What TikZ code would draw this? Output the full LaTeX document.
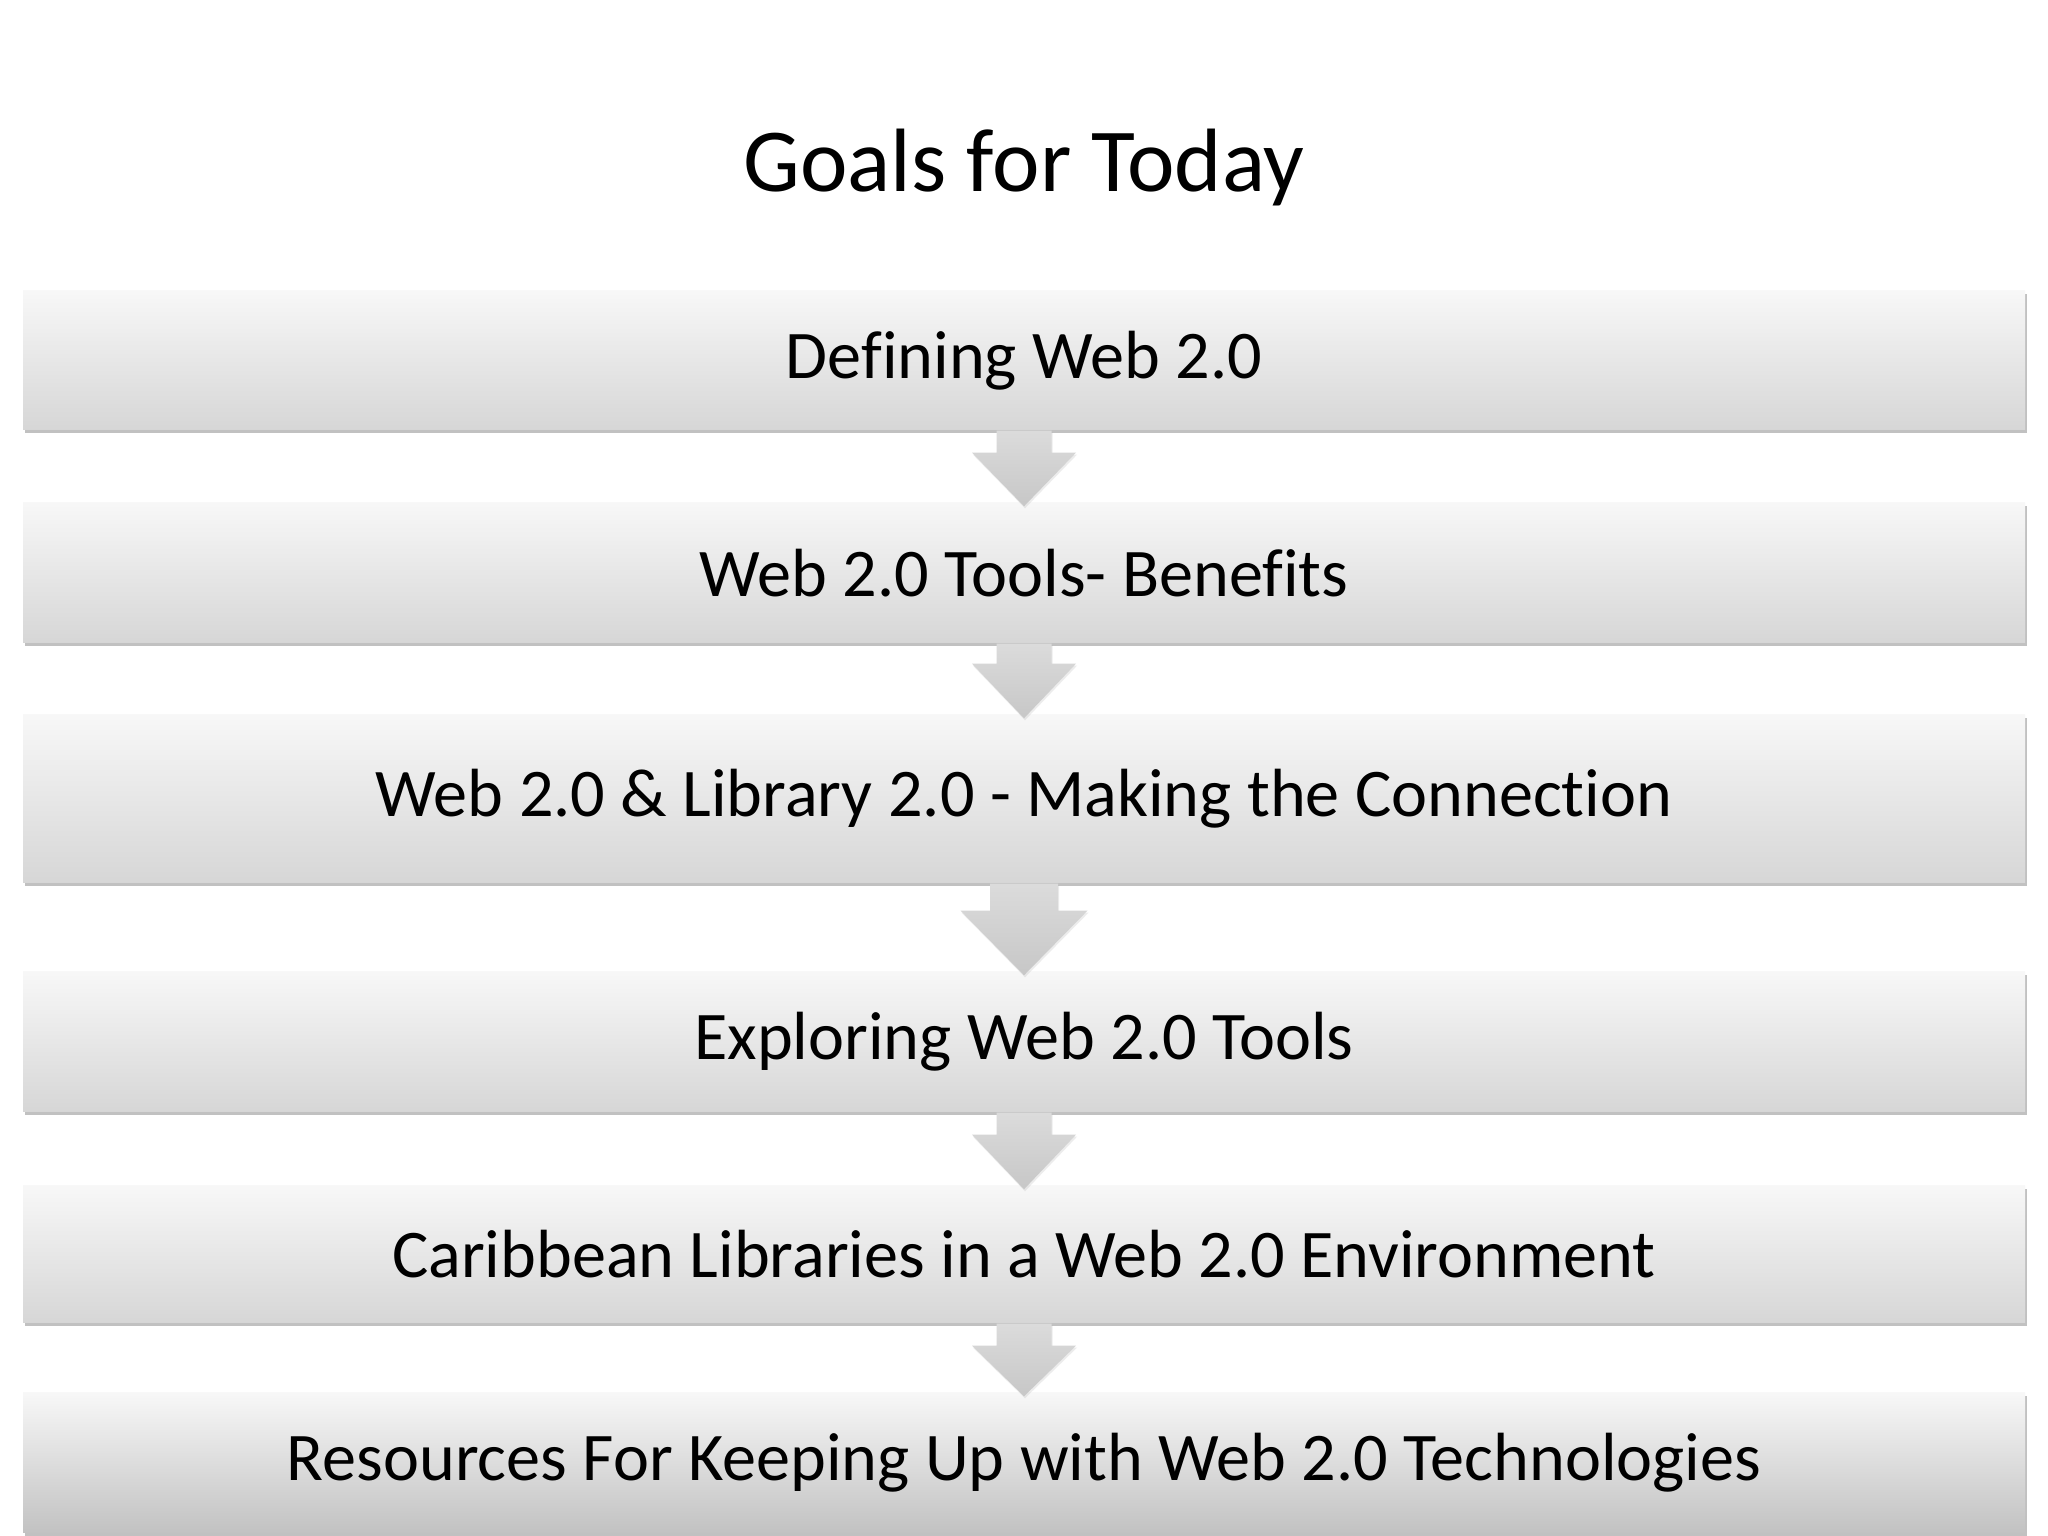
\documentclass[tikz,border=0pt]{standalone}
\usepackage{fontspec}
\setmainfont[Ligatures=NoCommon]{Carlito}
\usetikzlibrary{calc,shadows}
\tikzset{
  goalbox/.style={rectangle, minimum width=20.02cm, inner sep=0pt,
    top color=black!3, middle color=black!5, bottom color=black!16,
    drop shadow={shadow xshift=0.02cm, shadow yshift=-0.03cm, opacity=0.4, fill=black!60},
    font=\fontsize{19.4}{23}\selectfont, text=black},
  blockarr/.style={top color=black!14, bottom color=black!22,
    drop shadow={shadow xshift=0.01cm, shadow yshift=-0.02cm, opacity=0.15}},
}
\newcommand\blockarrow[5]{%
  % #1 from node, #2 to node, #3 shaft half width, #4 head half width, #5 head-top offset
  \path[blockarr]
    ($(#1.south)+(-#3,0)$) -- ($(#1.south)+(-#3,-#5)$) -- ($(#1.south)+(-#4,-#5)$)
    -- ($(#2.north)+(0,-0.04)$)
    -- ($(#1.south)+(#4,-#5)$) -- ($(#1.south)+(#3,-#5)$) -- ($(#1.south)+(#3,0)$) -- cycle;
}
\begin{document}
\begin{tikzpicture}
\useasboundingbox[fill=white] (0,0) rectangle (20.48,15.36);
\node[font=\fontsize{25.6}{30}\selectfont] (title) at (10.24,13.68) {Goals for Today};

\node[goalbox, minimum height=1.39cm] (b1) at (10.24,11.755) {Defining Web 2.0};
\node[goalbox, minimum height=1.40cm] (b2) at (10.24,9.63) {Web 2.0 Tools- Benefits};
\node[goalbox, minimum height=1.68cm] (b3) at (10.24,7.37) {Web 2.0 \& Library 2.0 - Making the Connection};
\node[goalbox, minimum height=1.40cm] (b4) at (10.24,4.94) {Exploring Web 2.0 Tools};
\node[goalbox, minimum height=1.37cm] (b5) at (10.24,2.815) {Caribbean Libraries in a Web 2.0 Environment};
\node[goalbox, minimum height=1.40cm, bottom color=black!24] (b6) at (10.24,0.73) {Resources For Keeping Up with Web 2.0 Technologies};

\blockarrow{b1}{b2}{0.275}{0.52}{0.22}
\blockarrow{b2}{b3}{0.275}{0.52}{0.20}
\blockarrow{b3}{b4}{0.34}{0.635}{0.27}
\blockarrow{b4}{b5}{0.275}{0.52}{0.22}
\blockarrow{b5}{b6}{0.275}{0.52}{0.22}
\end{tikzpicture}
\end{document}
